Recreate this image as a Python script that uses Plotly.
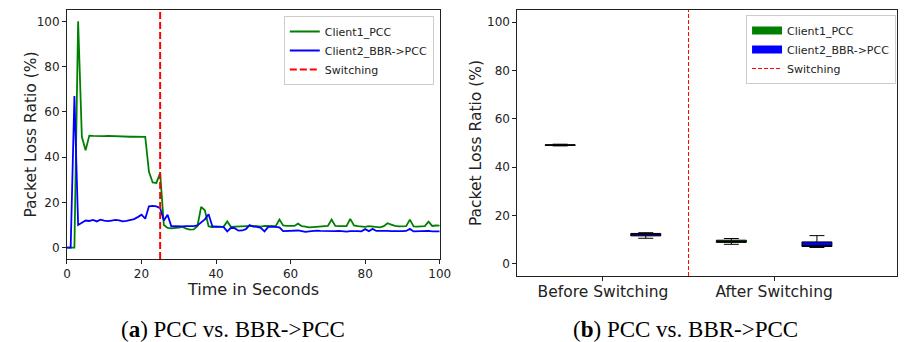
import plotly.graph_objects as go

# ---------------- data ----------------
time_s = list(range(0, 101))

client1_pcc = [
    0, 0, 0, 100, 49, 43, 49.5, 49.4, 49.3, 49.4,
    49.3, 49.4, 49.3, 49.2, 49.3, 49.2, 49.1, 49.0, 49.1, 49.0,
    49.1, 49.0, 33.5, 28.8, 28.6, 33.0, 10.0, 8.7, 8.5, 8.6,
    8.9, 9.2, 8.4, 8.0, 8.1, 9.5, 18.0, 16.5, 9.5, 9.0,
    9.4, 9.3, 9.2, 11.6, 9.2, 9.3, 9.4, 9.3, 9.5, 9.8,
    9.6, 9.5, 9.3, 9.6, 9.5, 9.4, 9.5, 12.4, 9.8, 9.6,
    9.7, 9.6, 10.6, 9.5, 9.3, 9.0, 9.1, 9.2, 9.5, 9.4,
    9.6, 12.4, 9.6, 9.5, 9.4, 9.5, 12.7, 9.8, 9.5, 9.3,
    9.2, 9.5, 9.4, 9.2, 9.0, 9.5, 10.8, 10.2, 9.6, 9.4,
    9.3, 9.5, 12.4, 9.4, 9.3, 9.4, 9.5, 11.5, 9.6, 9.8,
    9.7,
]

client2_bbr_pcc = [
    0, 0, 67, 10.0, 11.0, 12.0, 11.8, 12.3, 11.6, 12.4,
    12.0, 11.7, 12.0, 12.3, 12.1, 11.6, 11.8, 12.3, 12.6, 13.5,
    14.6, 12.8, 18.3, 18.5, 18.2, 17.5, 12.0, 14.5, 9.4, 9.5,
    9.3, 9.4, 9.5, 9.4, 9.5, 9.8, 11.0, 12.5, 14.8, 9.5,
    9.2, 9.3, 9.2, 7.2, 8.8, 8.6, 7.5, 7.6, 8.2, 10.0,
    9.3, 9.2, 8.8, 7.2, 9.2, 9.3, 9.2, 9.0, 7.3, 7.4,
    7.4, 7.5, 7.6, 7.3, 7.0, 7.2, 7.4, 7.5, 7.4, 7.3,
    7.4, 7.2, 7.3, 7.4, 7.2, 7.1, 7.3, 7.4, 7.3, 7.2,
    8.2, 7.3, 8.3, 7.4, 7.5, 7.6, 7.4, 7.3, 7.2, 7.4,
    7.3, 7.4, 8.3, 7.2, 7.3, 7.2, 7.3, 7.4, 7.2, 7.3,
    7.2,
]

switch_time = 25

# box statistics (Before, After)
periods = ["Before Switching", "After Switching"]
c1_lowerfence = [48.8, 8.1]
c1_q1 = [49.0, 8.9]
c1_median = [49.1, 9.3]
c1_q3 = [49.3, 9.8]
c1_upperfence = [49.5, 10.5]

c2_lowerfence = [10.6, 6.8]
c2_q1 = [11.6, 7.2]
c2_median = [12.0, 7.5]
c2_q3 = [12.6, 9.1]
c2_upperfence = [12.9, 11.7]

GREEN = "#008000"
BLUE = "#0000FF"
RED = "#FF0000"
TXT = "#222222"
FONT = "DejaVu Sans"

W, H = 910, 342

fig = go.Figure()

# ---------------- panel (a) ----------------
fig.add_trace(go.Scatter(x=time_s, y=client1_pcc, mode="lines", name="Client1_PCC",
                         line=dict(color=GREEN, width=1.8), xaxis="x", yaxis="y", legend="legend"))
fig.add_trace(go.Scatter(x=time_s, y=client2_bbr_pcc, mode="lines", name="Client2_BBR->PCC",
                         line=dict(color=BLUE, width=1.8), xaxis="x", yaxis="y", legend="legend"))
fig.add_trace(go.Scatter(x=[switch_time, switch_time], y=[-5, 105], mode="lines", name="Switching",
                         line=dict(color=RED, width=2, dash="7px,3px"), xaxis="x", yaxis="y",
                         legend="legend"))

# ---------------- panel (b) ----------------
pos = [0, 1]
off = 0.25
bw = 0.175
fig.add_trace(go.Box(x=[p - off for p in pos], q1=c1_q1, median=c1_median, q3=c1_q3,
                     lowerfence=c1_lowerfence, upperfence=c1_upperfence,
                     fillcolor=GREEN, line=dict(color="black", width=1), width=bw,
                     whiskerwidth=0.5, boxpoints=False, showlegend=False,
                     xaxis="x2", yaxis="y2", hoverinfo="skip"))
fig.add_trace(go.Box(x=[p + off for p in pos], q1=c2_q1, median=c2_median, q3=c2_q3,
                     lowerfence=c2_lowerfence, upperfence=c2_upperfence,
                     fillcolor=BLUE, line=dict(color="black", width=1), width=bw,
                     whiskerwidth=0.5, boxpoints=False, showlegend=False,
                     xaxis="x2", yaxis="y2", hoverinfo="skip"))
# legend entries for panel (b)
fig.add_trace(go.Scatter(x=[None], y=[None], mode="lines", name="Client1_PCC",
                         line=dict(color=GREEN, width=8), xaxis="x2", yaxis="y2", legend="legend2"))
fig.add_trace(go.Scatter(x=[None], y=[None], mode="lines", name="Client2_BBR->PCC",
                         line=dict(color=BLUE, width=8), xaxis="x2", yaxis="y2", legend="legend2"))
fig.add_trace(go.Scatter(x=[0.5, 0.5], y=[-5, 105], mode="lines", name="Switching",
                         line=dict(color=RED, width=1, dash="4px,2px"), xaxis="x2", yaxis="y2",
                         legend="legend2"))

axis_common = dict(showline=True, linecolor="#222222", linewidth=1, mirror=True,
                   ticks="outside", ticklen=4, tickcolor="#222222", tickwidth=1,
                   showgrid=False, zeroline=False,
                   tickfont=dict(family=FONT, size=12, color=TXT))

fig.update_layout(
    width=W, height=H,
    margin=dict(l=0, r=0, t=0, b=0),
    paper_bgcolor="white", plot_bgcolor="white",
    xaxis=dict(domain=[64 / W, 443 / W], range=[0, 100], tickvals=[0, 20, 40, 60, 80, 100],
               anchor="y", **axis_common),
    yaxis=dict(domain=[1 - 259 / H, 1 - 10 / H], range=[-5, 105], tickvals=[0, 20, 40, 60, 80, 100],
               anchor="x", **axis_common),
    xaxis2=dict(domain=[522 / W, 908 / W], range=[-0.5, 1.718], tickvals=[0, 1],
                ticktext=periods, anchor="y2", ticklabelstandoff=-3,
                **{**axis_common, "tickfont": dict(family=FONT, size=15.5, color=TXT)}),
    yaxis2=dict(domain=[1 - 276 / H, 1 - 10 / H], range=[-5, 105], tickvals=[0, 20, 40, 60, 80, 100],
                anchor="x2", **axis_common),
    legend=dict(x=437 / W, xanchor="right", y=1 - 16 / H, yanchor="top",
                bgcolor="rgba(255,255,255,0.8)", bordercolor="#cccccc", borderwidth=1,
                font=dict(family=FONT, size=11, color=TXT), tracegroupgap=0),
    legend2=dict(x=907 / W, xanchor="right", y=1 - 15 / H, yanchor="top",
                 bgcolor="rgba(255,255,255,0.8)", bordercolor="#cccccc", borderwidth=1,
                 font=dict(family=FONT, size=11, color=TXT), tracegroupgap=0),
    showlegend=True,
)

annotations = [
    dict(text="Packet Loss Ratio (%)", x=27 / W, y=1 - 135 / H, textangle=-90,
         font=dict(family=FONT, size=15.5, color=TXT)),
    dict(text="Time in Seconds", x=253 / W, y=1 - 289 / H,
         font=dict(family=FONT, size=16, color=TXT)),
    dict(text="Packet Loss Ratio (%)", x=480 / W, y=1 - 143 / H, textangle=-90,
         font=dict(family=FONT, size=15.5, color=TXT)),
    dict(text="(<b>a</b>) PCC vs. BBR->PCC", x=233 / W, y=1 - 329 / H,
         font=dict(family="Liberation Serif", size=23, color="black")),
    dict(text="(<b>b</b>) PCC vs. BBR->PCC", x=693 / W, y=1 - 329 / H,
         font=dict(family="Liberation Serif", size=23, color="black")),
]
for a in annotations:
    a.update(xref="paper", yref="paper", showarrow=False, xanchor="center", yanchor="middle")
fig.update_layout(annotations=annotations)

fig.write_html("out.html")
